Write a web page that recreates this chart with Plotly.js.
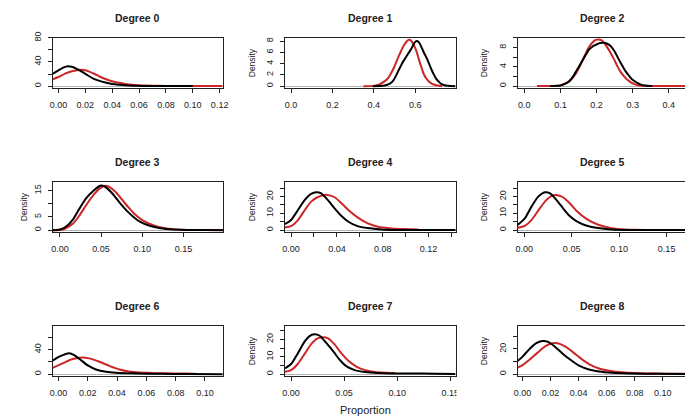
<!DOCTYPE html>
<html>
<head>
<meta charset="utf-8">
<script src="https://cdn.plot.ly/plotly-3.0.1.min.js"></script>
<style>
html,body{margin:0;padding:0;overflow:hidden;background:#fff;width:685px;height:419px;}
#chart{width:688px;height:419px;}
</style>
</head>
<body>
<div id="chart"></div>
<script>
// ---------- data ----------
const panelTitles = ["Degree 0","Degree 1","Degree 2","Degree 3","Degree 4","Degree 5","Degree 6","Degree 7","Degree 8"];

const deg0BlackX = [-0.0044,0.000,0.004,0.007,0.010,0.014,0.018,0.022,0.026,0.030,0.035,0.040,0.045,0.050,0.055,0.062,0.070,0.080,0.090,0.100];
const deg0BlackY = [20,26,31,33,32,28,23,17.5,12.5,9,5.8,3.6,2.2,1.2,0.6,0.3,0.15,0.05,0.02,0];
const deg0RedX = [-0.0044,0.000,0.005,0.010,0.015,0.019,0.023,0.027,0.031,0.035,0.040,0.045,0.050,0.055,0.060,0.065,0.070,0.080,0.090,0.100,0.110,0.122];
const deg0RedY = [11,15,20.5,24.5,26.8,26.5,24,20,15.5,11.7,8,5.4,3.5,2.2,1.4,0.8,0.5,0.25,0.15,0.1,0.08,0.05];

const deg1BlackX = [0.395,0.430,0.452,0.470,0.484,0.496,0.508,0.520,0.532,0.544,0.556,0.568,0.581,0.592,0.602,0.612,0.622,0.632,0.642,0.653,0.665,0.677,0.690,0.702,0.714,0.726,0.742,0.758,0.795];
const deg1BlackY = [0,0.03,0.1,0.3,0.6,1.1,1.9,2.8,3.7,4.5,5.2,5.9,6.6,7.4,7.95,8.0,7.6,6.8,6.0,5.2,4.2,3.1,2.1,1.3,0.8,0.4,0.15,0.06,0];
const deg1RedX = [0.350,0.400,0.427,0.450,0.468,0.485,0.500,0.512,0.524,0.536,0.548,0.560,0.570,0.580,0.590,0.600,0.610,0.620,0.630,0.640,0.653,0.666,0.680,0.694,0.710,0.730];
const deg1RedY = [0,0.05,0.3,0.8,1.4,2.4,3.5,4.6,5.6,6.6,7.4,8.0,8.25,8.1,7.6,6.8,5.8,4.5,3.4,2.3,1.4,0.83,0.45,0.24,0.1,0];

const deg2BlackX = [0.072,0.090,0.100,0.112,0.123,0.132,0.141,0.150,0.160,0.170,0.178,0.190,0.201,0.210,0.220,0.229,0.238,0.250,0.261,0.270,0.280,0.289,0.298,0.310,0.321,0.335,0.349,0.354];
const deg2BlackY = [0,0.05,0.14,0.45,0.9,1.7,2.8,3.9,5.2,6.5,7.5,8.3,8.7,8.95,9.0,8.8,8.4,7.2,5.6,4.4,3.1,2.2,1.4,0.75,0.35,0.1,0.01,0];
const deg2RedX = [0.035,0.060,0.080,0.100,0.118,0.130,0.141,0.150,0.160,0.170,0.178,0.188,0.197,0.206,0.214,0.222,0.230,0.238,0.248,0.257,0.266,0.275,0.285,0.294,0.303,0.312,0.325,0.340,0.360,0.400,0.440,0.455];
const deg2RedY = [0,0,0.02,0.15,0.7,1.4,2.4,3.6,5.2,6.8,8.0,9.0,9.6,9.7,9.5,8.9,8.0,7.0,5.6,4.2,3.0,2.1,1.3,0.84,0.45,0.2,0.06,0.01,0,0,0.01,0.01];

const deg3BlackX = [-0.009,0,0.008,0.016,0.024,0.032,0.041,0.049,0.052,0.057,0.065,0.073,0.081,0.089,0.097,0.109,0.122,0.138,0.154,0.175,0.198];
const deg3BlackY = [0,0.25,1.5,4.1,8.3,12.1,15.0,16.8,16.85,15.9,13.4,10.2,7.4,5.1,3.2,1.65,0.76,0.25,0.05,0.01,0];
const deg3RedX = [-0.009,0.004,0.016,0.024,0.032,0.041,0.049,0.055,0.059,0.067,0.075,0.083,0.091,0.101,0.114,0.126,0.138,0.154,0.175,0.198];
const deg3RedY = [0,0.25,2.5,5.7,9.5,13.4,15.9,16.8,16.5,14.6,11.7,8.7,6.0,3.6,1.8,0.8,0.3,0.1,0.02,0.01];

const deg4BlackX = [-0.0053,0,0.006,0.012,0.0175,0.022,0.026,0.032,0.038,0.044,0.050,0.058,0.067,0.079,0.093,0.110,0.130,0.144];
const deg4BlackY = [3.6,6,12,18,21.6,22.6,22,18,13,8.4,5,2.4,1.2,0.4,0.1,0.03,0.01,0];
const deg4RedX = [-0.0053,0,0.006,0.012,0.0175,0.023,0.029,0.032,0.038,0.044,0.050,0.058,0.067,0.076,0.088,0.099,0.111];
const deg4RedY = [1.6,2.4,6,12,17,19.6,21,21,19.6,16,12,7.6,4,2,1,0.6,0.4];

const deg5BlackX = [-0.007,0.0007,0.0077,0.0148,0.0218,0.027,0.034,0.041,0.048,0.055,0.066,0.078,0.092,0.110,0.140,0.1725];
const deg5BlackY = [3,7,14,20,22.6,22,18,13,8.4,5.4,2.6,1.2,0.4,0.05,0.01,0];
const deg5RedX = [-0.007,0.0007,0.0077,0.0148,0.0218,0.029,0.034,0.041,0.048,0.055,0.066,0.078,0.092,0.106,0.117,0.135,0.155,0.1725];
const deg5RedY = [1.4,2.6,6,11.6,17,20.4,21,19.6,16,11.6,6.6,3.2,1.2,0.4,0.2,0.1,0.08,0.05];

const deg6BlackX = [-0.004,0.0005,0.005,0.0073,0.0107,0.0153,0.020,0.0256,0.0325,0.039,0.046,0.055,0.069,0.087,0.112];
const deg6BlackY = [22,28.5,33,34,31,23,14.2,7.7,3.8,2.2,1.6,1.1,0.5,0.2,0];
const deg6RedX = [-0.004,0.0027,0.0096,0.0165,0.021,0.028,0.035,0.0416,0.048,0.055,0.061,0.067,0.078,0.087,0.094];
const deg6RedY = [10.4,17.5,24.7,27.4,25.8,20.3,13.2,7.7,4.4,2.7,2.2,1.5,1.2,1.0,0.5];

const deg7BlackX = [-0.0057,0,0.0063,0.0127,0.0174,0.022,0.027,0.033,0.040,0.046,0.052,0.060,0.070,0.082,0.095,0.114,0.136,0.155];
const deg7BlackY = [3.3,5.8,11.9,18.7,21.9,22.9,22.1,18.1,12.9,8.1,4.6,2.3,1.15,0.6,0.4,0.4,0.2,0];
const deg7RedX = [-0.0057,0,0.0063,0.0127,0.019,0.025,0.030,0.035,0.041,0.0475,0.054,0.062,0.070,0.079,0.089,0.098];
const deg7RedY = [1.35,2.3,5.8,11.5,17.3,20.6,21.2,20.6,17.1,11.9,7.7,4.2,2.3,1.15,0.77,0.6];

const deg8BlackX = [-0.0036,0,0.0047,0.0095,0.0142,0.0178,0.0225,0.0284,0.0344,0.0403,0.0474,0.0545,0.064,0.076,0.095,0.118];
const deg8BlackY = [10.4,13.9,19.7,24.5,26.4,25.9,22.4,16.5,11.2,6.7,3.7,2.1,1.07,0.53,0.27,0];
const deg8RedX = [-0.0036,0,0.0047,0.0107,0.0166,0.0213,0.0249,0.0296,0.0355,0.0415,0.0474,0.0545,0.0616,0.0687,0.076,0.0806,0.095,0.110,0.116];
const deg8RedY = [5.1,7.2,11.2,17.1,22.4,24.5,24.5,22.4,17.9,12.5,8,4.5,2.7,1.6,1.07,0.8,0.4,0.3,0.2];

// tick values / labels
const xTickVals = [
  [0,0.02,0.04,0.06,0.08,0.10,0.12],
  [0,0.2,0.4,0.6],
  [0,0.1,0.2,0.3,0.4],
  [0,0.05,0.10,0.15],
  [0,0.02,0.04,0.06,0.08,0.10,0.12,0.14],
  [0,0.05,0.10,0.15],
  [0,0.02,0.04,0.06,0.08,0.10],
  [0,0.05,0.10,0.15],
  [0,0.02,0.04,0.06,0.08,0.10]
];
const xTickText = [
  ["0.00","0.02","0.04","0.06","0.08","0.10","0.12"],
  ["0.0","0.2","0.4","0.6"],
  ["0.0","0.1","0.2","0.3","0.4"],
  ["0.00","0.05","0.10","0.15"],
  ["0.00","","0.04","","0.08","","0.12",""],
  ["0.00","0.05","0.10","0.15"],
  ["0.00","0.02","0.04","0.06","0.08","0.10"],
  ["0.00","0.05","0.10","0.15"],
  ["0.00","0.02","0.04","0.06","0.08","0.10"]
];
const yTickVals = [
  [0,20,40,60,80],
  [0,2,4,6,8],
  [0,2,4,6,8,10],
  [0,5,10,15],
  [0,5,10,15,20,25],
  [0,5,10,15,20,25],
  [0,20,40,60],
  [0,5,10,15,20,25],
  [0,10,20,30]
];
const yTickText = [
  ["0","","40","","80"],
  ["0","2","4","6","8"],
  ["0","","4","","8",""],
  ["0","5","","15"],
  ["0","","10","","20",""],
  ["0","","10","","20",""],
  ["0","","40",""],
  ["0","","10","","20",""],
  ["0","","20",""]
];
const showDensity = [false,true,true,true,true,true,false,true,true];

// ---------- layout geometry ----------
const W = 688, H = 419;
const colPx = [[52.5,223],[285,455.5],[517.5,688]];
const rowPx = [[37.5,88],[181.5,232],[325.5,376]];
const titleY = [18,162,306];
const densityX = [23.5,251.5,483.5];
const xRanges = [[-0.0044,0.1225],[-0.029,0.795],[-0.019,0.453],[-0.009,0.198],[-0.0053,0.1435],[-0.007,0.1725],[-0.0041,0.1123],[-0.0057,0.155],[-0.0036,0.118]];
const yRanges = [[-3.2,80.5],[-0.33,8.66],[-0.4,10.1],[-0.7,18.4],[-1.12,29],[-1.12,29],[-3,79.5],[-1.1,28],[-1.5,38.7]];

const blackX = [deg0BlackX,deg1BlackX,deg2BlackX,deg3BlackX,deg4BlackX,deg5BlackX,deg6BlackX,deg7BlackX,deg8BlackX];
const blackY = [deg0BlackY,deg1BlackY,deg2BlackY,deg3BlackY,deg4BlackY,deg5BlackY,deg6BlackY,deg7BlackY,deg8BlackY];
const redX = [deg0RedX,deg1RedX,deg2RedX,deg3RedX,deg4RedX,deg5RedX,deg6RedX,deg7RedX,deg8RedX];
const redY = [deg0RedY,deg1RedY,deg2RedY,deg3RedY,deg4RedY,deg5RedY,deg6RedY,deg7RedY,deg8RedY];

const FONT = "Liberation Sans, Arial, sans-serif";
const RED = "#cc2626";
const traces = [];
const layout = {
  width: W, height: H,
  margin: {l:0,r:0,t:0,b:0},
  paper_bgcolor: "#fff", plot_bgcolor: "#fff",
  showlegend: false,
  font: {family: FONT, color: "#222"},
  annotations: [], shapes: []
};

for (let i = 0; i < 9; i++) {
  const r = Math.floor(i/3), c = i % 3;
  const sfx = i === 0 ? "" : String(i+1);
  const xa = "x" + sfx, ya = "y" + sfx;
  traces.push({type:"scatter", mode:"lines", x: redX[i], y: redY[i], xaxis: xa, yaxis: ya,
    line:{color:RED, width:2, shape:"spline", smoothing:0.6}, hoverinfo:"skip"});
  traces.push({type:"scatter", mode:"lines", x: blackX[i], y: blackY[i], xaxis: xa, yaxis: ya,
    line:{color:"#000", width:2, shape:"spline", smoothing:0.6}, hoverinfo:"skip"});
  layout["xaxis"+sfx] = {
    domain: [colPx[c][0]/W, colPx[c][1]/W], anchor: ya, range: xRanges[i],
    showline:true, mirror:true, linecolor:"#222", linewidth:1,
    ticks:"outside", ticklen:4, tickwidth:1, tickcolor:"#222",
    tickmode:"array", tickvals: xTickVals[i], ticktext: xTickText[i],
    tickfont:{family:FONT, size:9, color:"#222"}, ticklabelstandoff: 4,
    showgrid:false, zeroline:false, fixedrange:true
  };
  layout["yaxis"+sfx] = {
    domain: [1-rowPx[r][1]/H, 1-rowPx[r][0]/H], anchor: xa, range: yRanges[i],
    showline:true, mirror:true, linecolor:"#222", linewidth:1,
    ticks:"outside", ticklen:4, tickwidth:1, tickcolor:"#222",
    tickmode:"array", tickvals: yTickVals[i], ticktext: yTickText[i], tickangle:-90,
    tickfont:{family:FONT, size:9, color:"#222"}, ticklabelstandoff: 3,
    showgrid:false, zeroline:true, zerolinecolor:"#b4b4b4", zerolinewidth:1, fixedrange:true
  };
  layout.annotations.push({
    text: "<b>" + panelTitles[i] + "</b>", xref:"paper", yref:"paper",
    x: (colPx[c][0]+colPx[c][1])/2/W, y: 1 - titleY[r]/H, xanchor:"center", yanchor:"middle",
    showarrow:false, font:{family:FONT, size:10.5, color:"#222"}
  });
  if (showDensity[i]) {
    layout.annotations.push({
      text: "Density", xref:"paper", yref:"paper", textangle:-90,
      x: densityX[c]/W, y: 1 - (rowPx[r][0]+rowPx[r][1])/2/H, xanchor:"center", yanchor:"middle",
      showarrow:false, font:{family:FONT, size:8.5, color:"#222"}
    });
  }
}
layout.annotations.push({
  text: "Proportion", xref:"paper", yref:"paper", x: 366/W, y: 1 - 410/H,
  xanchor:"center", yanchor:"middle", showarrow:false, font:{family:FONT, size:11, color:"#222"}
});
// the reference clips the last tick label of the Degree 7 panel at its figure edge
layout.shapes.push({type:"rect", xref:"paper", yref:"paper", layer:"above",
  x0: 456.5/W, x1: 478/W, y0: 1-402/H, y1: 1-380/H, line:{width:0}, fillcolor:"#fff"});

Plotly.newPlot("chart", traces, layout, {staticPlot:true, displayModeBar:false});
</script>
</body>
</html>
